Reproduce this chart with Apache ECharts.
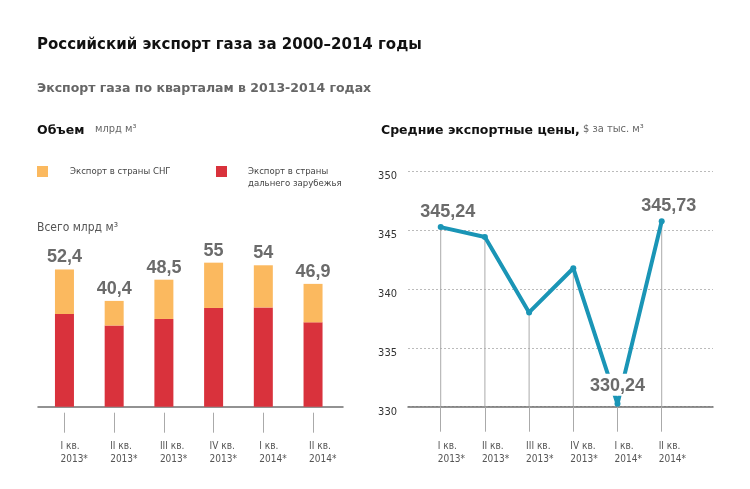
<!DOCTYPE html>
<html>
<head>
<meta charset="utf-8">
<script src="https://cdn.jsdelivr.net/npm/echarts@6/dist/echarts.min.js"></script>
<style>
html,body{margin:0;padding:0;background:#fff;}
#c{width:750px;height:489px;}
</style>
</head>
<body>
<div id="c"></div>
<script>
// ---- data ----
var quarters = ['I кв.\n2013*', 'II кв.\n2013*', 'III кв.\n2013*', 'IV кв.\n2013*', 'I кв.\n2014*', 'II кв.\n2014*'];
var farAbroad = [35.4, 31.0, 33.5, 37.7, 37.9, 32.2];
var cis = [17.0, 9.4, 15.0, 17.3, 16.1, 14.7];
var totals = [52.4, 40.4, 48.5, 55, 54, 46.9];
var prices = [345.24, 344.4, 338.0, 341.75, 330.24, 345.73];
var labeledPrices = [0, 4, 5];
var priceTicks = [330, 335, 340, 345, 350];
var seriesNames = ['Экспорт в страны СНГ', 'Экспорт в страны\nдальнего зарубежья'];

var FONT = "'DejaVu Sans Condensed', 'DejaVu Sans', sans-serif";
var BOLD = "'DejaVu Sans', sans-serif";
var NUMFONT = "'Liberation Sans', Arial, sans-serif";
var TEAL = '#1a95b6';
var ORANGE = '#fbb95f';
var RED = '#d9323c';
function fmt(v){ return String(v).replace('.', ','); }

var chart = echarts.init(document.getElementById('c'), null, {renderer:'canvas'});

var numLabel = {color:'#6b6b6b', fontFamily:NUMFONT, fontWeight:'bold', fontSize:18};

var priceData = prices.map(function(v, i){
  if (labeledPrices.indexOf(i) < 0) return v;
  var lbl = Object.assign({show:true, position:'top', distance:3,
    formatter:function(p){ return fmt(p.value); }}, numLabel);
  if (i === 4) { lbl.backgroundColor = '#fff'; lbl.padding = [3, 3, 1, 3]; lbl.distance = 5; }
  else { lbl.offset = [7, 0]; }
  return {value:v, label:lbl};
});

var gridTop = 171, gridBottom = 82.3;
function t(text, left, top, style){
  return {text:text, left:left, top:top, padding:0, textStyle:style};
}
var option = {
  backgroundColor:'#fff',
  animation:false,
  title:[
    t('Российский экспорт газа за 2000–2014 годы', 37, 38, {fontFamily:BOLD, fontWeight:'bold', fontSize:15, color:'#111'}),
    t('Экспорт газа по кварталам в 2013-2014 годах', 37, 82, {fontFamily:BOLD, fontWeight:'bold', fontSize:12.5, color:'#666'}),
    t('Объем', 37, 124, {fontFamily:BOLD, fontWeight:'bold', fontSize:12.5, color:'#111'}),
    t('млрд м³', 95, 124, {fontFamily:FONT, fontWeight:'normal', fontSize:11, color:'#666'}),
    t('Средние экспортные цены,', 381, 124, {fontFamily:BOLD, fontWeight:'bold', fontSize:12.5, color:'#111'}),
    t('$ за тыс. м³', 583, 124, {fontFamily:FONT, fontWeight:'normal', fontSize:11, color:'#666'}),
    t('Всего млрд м³', 37, 222, {fontFamily:FONT, fontWeight:'normal', fontSize:12, color:'#555'}),
    t(seriesNames[1].split('\n')[1], 248, 179, {fontFamily:FONT, fontWeight:'normal', fontSize:9.5, color:'#444'})
  ],
  legend:[
    {left:37, top:166, padding:0, itemWidth:11, itemHeight:11, itemGap:5, icon:'rect',
      data:[seriesNames[0]], selectedMode:false,
      textStyle:{fontFamily:FONT, fontSize:9.5, color:'#444', padding:[0,0,0,17]}},
    {left:216, top:166, padding:0, itemWidth:11, itemHeight:11, itemGap:5, icon:'rect',
      data:[seriesNames[1]], selectedMode:false,
      formatter:function(n){ return n.split('\n')[0]; },
      textStyle:{fontFamily:FONT, fontSize:9.5, color:'#444', padding:[0,0,0,16]}}
  ],
  grid:[
    {left:38, right:407, top:gridTop, bottom:gridBottom},
    {left:39.6, right:412.1, top:gridTop, bottom:gridBottom},
    {left:408, right:37, top:gridTop, bottom:gridBottom},
    {left:418.6, right:66.2, top:gridTop, bottom:gridBottom}
  ],
  xAxis:[
    {gridIndex:0, type:'category', position:'bottom', data:quarters, axisLine:{lineStyle:{color:'#6f6f6f', width:1.5}},
      axisTick:{show:false}, axisLabel:{show:false}},
    {gridIndex:1, type:'category', position:'bottom', data:quarters, axisLine:{show:false}, axisTick:{show:false}, axisLabel:{show:false}},
    {gridIndex:1, type:'category', position:'bottom', data:quarters, offset:6, axisLine:{show:false},
      axisTick:{show:true, alignWithLabel:true, length:20, lineStyle:{color:'#aaa', width:1}},
      axisLabel:{fontFamily:FONT, fontSize:10, color:'#555', lineHeight:13, align:'left', margin:27, padding:[0,0,0,-4]}},
    {gridIndex:2, type:'category', position:'bottom', data:quarters, axisLine:{lineStyle:{color:'#6f6f6f', width:1.5}},
      axisTick:{show:false}, axisLabel:{show:false}},
    {gridIndex:3, type:'category', position:'bottom', data:quarters, axisLine:{show:false},
      axisTick:{show:true, alignWithLabel:true, length:25, lineStyle:{color:'#aaa', width:1}},
      axisLabel:{fontFamily:FONT, fontSize:10, color:'#555', lineHeight:13, align:'left', margin:33, padding:[0,0,0,-3]}}
  ],
  yAxis:[
    {gridIndex:0, type:'value', min:0, max:90, show:false},
    {gridIndex:1, type:'value', min:0, max:90, show:false},
    {gridIndex:2, type:'value', min:priceTicks[0], max:priceTicks[priceTicks.length-1], interval:5,
      axisLine:{show:false}, axisTick:{show:false},
      axisLabel:{fontFamily:FONT, fontSize:11, color:'#333', margin:11, verticalAlign:'top', lineHeight:10},
      splitLine:{show:true, lineStyle:{color:'#bbb', type:[2,2], width:1}}},
    {gridIndex:3, type:'value', min:priceTicks[0], max:priceTicks[priceTicks.length-1], show:false}
  ],
  series:[
    {name:seriesNames[1], type:'bar', xAxisIndex:1, yAxisIndex:1, stack:'v',
      data:farAbroad, barWidth:19, itemStyle:{color:RED}},
    {name:seriesNames[0], type:'bar', xAxisIndex:1, yAxisIndex:1, stack:'v',
      data:cis, barWidth:19, itemStyle:{color:ORANGE},
      label:Object.assign({show:true, position:'top', distance:3,
        formatter:function(p){ return fmt(totals[p.dataIndex]); }}, numLabel)},
    {name:'drop', type:'bar', xAxisIndex:4, yAxisIndex:3, data:prices, barWidth:1, clip:true,
      itemStyle:{color:'#aaa'}, silent:true},
    {name:'price', type:'line', xAxisIndex:4, yAxisIndex:3, data:priceData, z:5,
      lineStyle:{color:TEAL, width:4}, itemStyle:{color:TEAL}, symbol:'circle', symbolSize:6, showAllSymbol:true}
  ]
};
chart.setOption(option);
</script>
</body>
</html>
